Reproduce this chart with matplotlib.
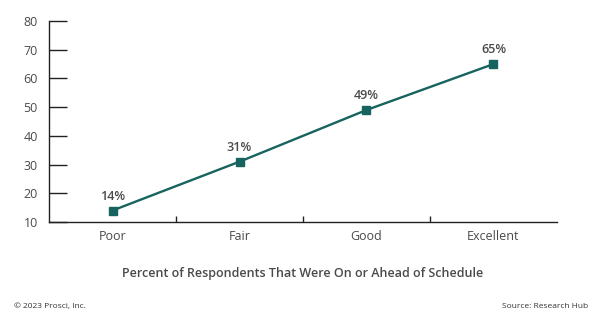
import matplotlib.pyplot as plt

plt.rcParams['font.family'] = ['Open Sans', 'DejaVu Sans']

categories = ['Poor', 'Fair', 'Good', 'Excellent']
values = [14, 31, 49, 65]
yticks = [10, 20, 30, 40, 50, 60, 70, 80]

TEAL = '#17635f'
GREY = '#4a4a4a'

fig = plt.figure(figsize=(6, 3.22), dpi=100)
ax = fig.add_axes([0.0817, 0.3106, 0.8466, 0.6242])

x = list(range(len(categories)))
ax.plot(x, values, color=TEAL, lw=1.7, marker='s', ms=5.5, zorder=3)
for xi, v in zip(x, values):
    ax.annotate(f'{v}%', (xi, v), xytext=(0, 5.5), textcoords='offset points',
                ha='center', va='bottom', fontsize=9, fontweight='semibold', color=GREY)

ax.set_xlim(-0.5, len(categories) - 0.5)
ax.set_ylim(10, 80)
ax.set_yticks(yticks)
ax.set_xticks(x)
ax.set_xticklabels(categories)
ax.set_xticks([i + 0.5 for i in x[:-1]], minor=True)

ax.spines['top'].set_visible(False)
ax.spines['right'].set_visible(False)
for s in ('left', 'bottom'):
    ax.spines[s].set_color('#222222')
    ax.spines[s].set_linewidth(1)

ax.tick_params(axis='y', direction='in', length=13, width=1, color='#222222',
               labelsize=9, labelcolor=GREY, pad=8)
ax.tick_params(axis='x', which='major', length=0, labelsize=9, labelcolor=GREY, pad=6)
ax.tick_params(axis='x', which='minor', direction='in', length=4, width=1, color='#222222')

fig.text(0.505, 0.152, 'Percent of Respondents That Were On or Ahead of Schedule',
         ha='center', va='center', fontsize=9, fontweight='semibold', color=GREY)
fig.text(0.023, 0.047, '\u00a9 2023 Prosci, Inc.', ha='left', va='center', fontsize=6, color='#333333')
fig.text(0.98, 0.047, 'Source: Research Hub', ha='right', va='center', fontsize=6, color='#333333')

fig.savefig('out.png', dpi=100)
